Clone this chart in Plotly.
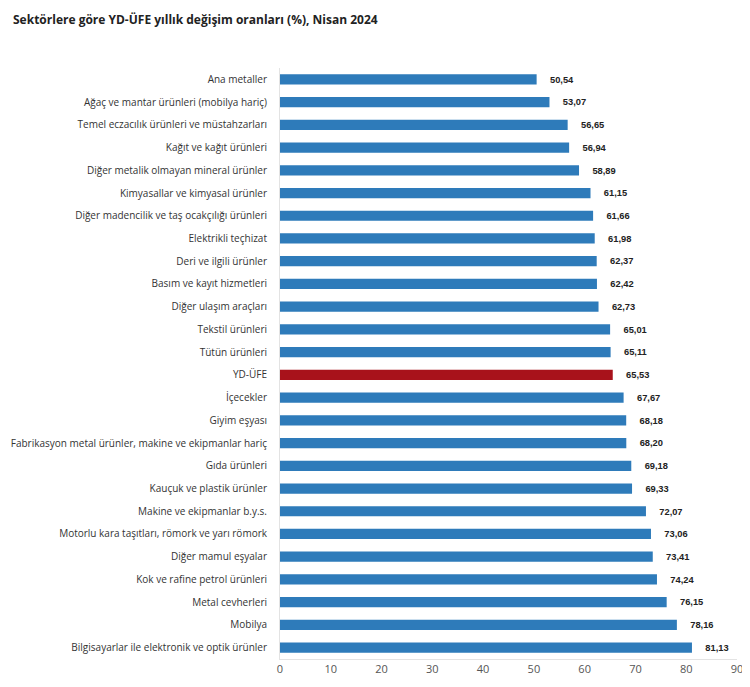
import plotly.graph_objects as go

categories = [
    "Ana metaller",
    "Ağaç ve mantar ürünleri (mobilya hariç)",
    "Temel eczacılık ürünleri ve müstahzarları",
    "Kağıt ve kağıt ürünleri",
    "Diğer metalik olmayan mineral ürünler",
    "Kimyasallar ve kimyasal ürünler",
    "Diğer madencilik ve taş ocakçılığı ürünleri",
    "Elektrikli teçhizat",
    "Deri ve ilgili ürünler",
    "Basım ve kayıt hizmetleri",
    "Diğer ulaşım araçları",
    "Tekstil ürünleri",
    "Tütün ürünleri",
    "YD-ÜFE",
    "İçecekler",
    "Giyim eşyası",
    "Fabrikasyon metal ürünler, makine ve ekipmanlar hariç",
    "Gıda ürünleri",
    "Kauçuk ve plastik ürünler",
    "Makine ve ekipmanlar b.y.s.",
    "Motorlu kara taşıtları, römork ve yarı römork",
    "Diğer mamul eşyalar",
    "Kok ve rafine petrol ürünleri",
    "Metal cevherleri",
    "Mobilya",
    "Bilgisayarlar ile elektronik ve optik ürünler",
]
values = [50.54, 53.07, 56.65, 56.94, 58.89, 61.15, 61.66, 61.98, 62.37, 62.42,
          62.73, 65.01, 65.11, 65.53, 67.67, 68.18, 68.20, 69.18, 69.33, 72.07,
          73.06, 73.41, 74.24, 76.15, 78.16, 81.13]
highlight = "YD-ÜFE"
tick_vals = [0, 10, 20, 30, 40, 50, 60, 70, 80, 90]

colors = ["#a8121b" if c == highlight else "#2e7bba" for c in categories]
labels = [f"{v:.2f}".replace(".", ",") for v in values]

fig = go.Figure(go.Bar(
    x=values, y=categories, orientation="h",
    marker=dict(color=colors, line=dict(width=0)),
    text=labels, textposition="outside",
    textfont=dict(family="Arial, Liberation Sans", size=10, color="#222222"),
    texttemplate="\u00a0\u00a0\u00a0\u00a0<b>%{text}</b>",
    cliponaxis=False,
))

# page body adds an 8px offset; figure sized to fit the 750x687 window
fig.update_layout(
    width=742, height=679,
    paper_bgcolor="white", plot_bgcolor="white",
    margin=dict(l=272, r=13, t=60, b=28),
    bargap=0.55,
    showlegend=False,
    title=dict(text="<b>Sektörlere göre YD-ÜFE yıllık değişim oranları (%), Nisan 2024</b>",
               xref="container", x=0, xanchor="left", pad=dict(l=5, t=0),
               yref="container", y=0.982, yanchor="middle",
               font=dict(family="Open Sans, Noto Sans", size=12, color="#222222")),
    font=dict(family="Open Sans, Noto Sans", size=10, color="#333333"),
)
fig.update_xaxes(range=[0, 90], tickvals=tick_vals, showgrid=False,
                 showline=True, linecolor="#e3e3e3", linewidth=1,
                 zeroline=False, ticks="", automargin=False,
                 tickfont=dict(size=11, color="#555555"))
fig.update_yaxes(autorange="reversed", showgrid=False, showline=True,
                 linecolor="#e3e3e3", linewidth=1, ticks="", automargin=False,
                 ticklabelstandoff=10, tickfont=dict(size=10, color="#333333"))

fig.write_html("out.html")
